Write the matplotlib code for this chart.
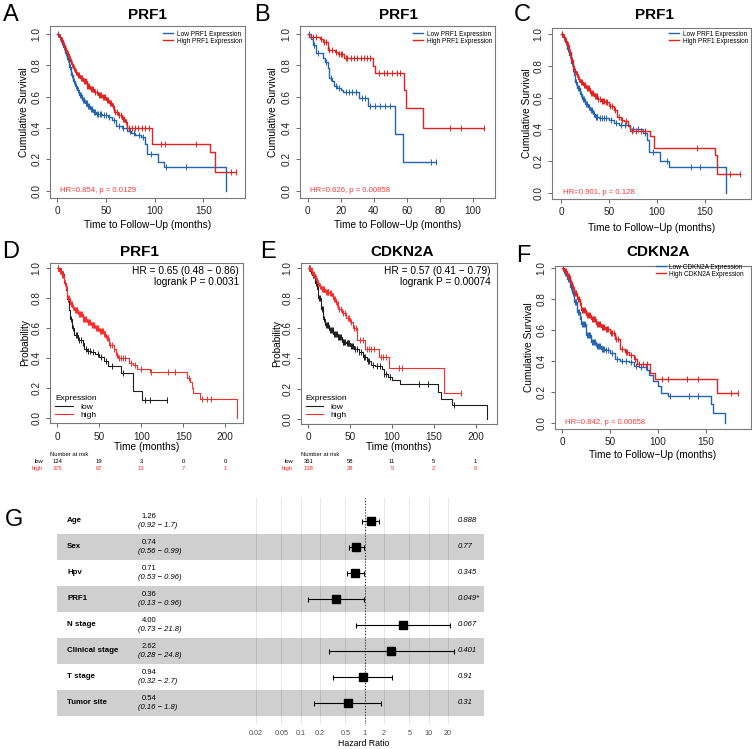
import numpy as np
import matplotlib.pyplot as plt
from matplotlib.transforms import blended_transform_factory as blend

plt.rcParams['font.family'] = ['Liberation Sans', 'DejaVu Sans']

W, H = 752, 749
BLUE = '#2264ae'
RED = '#e3211f'
RED2 = '#ff2a2a'
BLACK = '#1e1e1e'
HRCOL = '#ff3a3a'

# ---------------- KM data ----------------
# panel A (PRF1, low / high)
a_low_t = [2, 4, 6, 8, 10, 12, 14, 16, 18, 20, 22, 25, 28, 31, 34, 37, 40, 46, 52, 56, 60, 66, 72, 76, 80, 86, 90, 92, 103, 110, 173]
a_low_s = [0.98, 0.95, 0.92, 0.88, 0.84, 0.79, 0.74, 0.70, 0.67, 0.64, 0.61, 0.58, 0.56, 0.54, 0.52, 0.50, 0.49, 0.48, 0.47, 0.45, 0.41, 0.40, 0.38, 0.37, 0.355, 0.34, 0.30, 0.235, 0.18, 0.153, 0.0]
a_low_c = [1, 3, 5, 7, 9, 11, 13, 15, 17, 19, 21, 23, 24, 26, 27, 29, 30, 32, 33, 35, 36, 38, 39, 41, 42, 44, 45, 48, 50, 53, 58, 63, 68, 75, 79, 84, 88, 96, 112, 132]
a_high_t = [2, 4, 6, 8, 10, 12, 14, 16, 18, 20, 23, 26, 30, 34, 38, 42, 46, 50, 53, 56, 58, 62, 66, 70, 72, 97, 157, 162]
a_high_s = [0.98, 0.96, 0.93, 0.90, 0.87, 0.84, 0.81, 0.78, 0.76, 0.74, 0.72, 0.70, 0.67, 0.65, 0.63, 0.61, 0.60, 0.58, 0.56, 0.54, 0.50, 0.48, 0.46, 0.44, 0.40, 0.30, 0.25, 0.12]
a_high_c = [3, 5, 7, 9, 11, 13, 15, 17, 19, 21, 22, 24, 25, 27, 28, 29, 31, 32, 33, 35, 36, 37, 39, 41, 43, 44, 45, 47, 48, 49, 51, 52, 54, 55, 57, 59, 61, 63, 65, 67, 69, 71, 74, 77, 80, 83, 87, 90, 94, 107, 111, 142, 178, 184]

# panel B (PRF1)
b_low_t = [2, 3.4, 5, 9, 10.5, 12, 13, 15, 16, 18, 20, 21.6, 31, 36.5, 53, 58]
b_low_s = [0.966, 0.93, 0.88, 0.85, 0.82, 0.78, 0.72, 0.70, 0.67, 0.655, 0.64, 0.63, 0.59, 0.54, 0.36, 0.18]
b_low_c = [1, 4, 6, 11, 14, 17, 19, 23, 25, 27, 29, 33, 35, 38, 41, 44, 47, 50, 75, 78]
b_high_t = [1, 7.5, 9, 12, 16.5, 18.5, 22, 39.4, 40.8, 58.4, 59.4, 70]
b_high_s = [0.983, 0.966, 0.95, 0.898, 0.887, 0.87, 0.845, 0.796, 0.75, 0.64, 0.53, 0.40]
b_high_c = [3, 5, 8, 10, 11, 13, 15, 17, 19, 20, 21, 23, 24, 26, 28, 30, 32, 34, 36, 38, 43, 46, 48, 51, 54, 56, 86, 93, 107]

# panel C (PRF1)
c_low_t = [2, 4, 6, 8, 10, 12, 14, 15, 17, 20, 22, 25, 28, 30, 33, 35, 40, 50, 55, 60, 72, 85, 90, 92, 103, 112, 172]
c_low_s = [0.98, 0.95, 0.91, 0.87, 0.82, 0.78, 0.74, 0.70, 0.66, 0.62, 0.59, 0.56, 0.54, 0.52, 0.50, 0.48, 0.47, 0.46, 0.44, 0.43, 0.40, 0.38, 0.33, 0.255, 0.20, 0.165, 0.0]
c_low_c = [1, 3, 5, 7, 9, 11, 13, 16, 18, 19, 21, 23, 24, 26, 27, 29, 31, 32, 34, 36, 37, 38, 41, 43, 45, 47, 52, 57, 63, 67, 75, 80, 88, 96, 110, 135, 145]
c_high_t = [2, 4, 6, 8, 10, 12, 14, 16, 18, 20, 23, 26, 30, 34, 38, 42, 46, 50, 55, 58, 62, 66, 70, 72, 93, 97, 160, 163]
c_high_s = [0.98, 0.96, 0.93, 0.89, 0.84, 0.80, 0.77, 0.75, 0.72, 0.70, 0.68, 0.66, 0.63, 0.61, 0.59, 0.58, 0.57, 0.545, 0.52, 0.48, 0.46, 0.45, 0.42, 0.39, 0.36, 0.285, 0.24, 0.115]
c_high_c = [1, 3, 5, 7, 9, 11, 13, 15, 17, 19, 21, 22, 24, 25, 27, 28, 29, 31, 32, 33, 35, 36, 37, 39, 41, 43, 44, 45, 47, 48, 51, 53, 56, 60, 64, 68, 74, 78, 83, 88, 142, 176, 186]

# panel D (PRF1, KM plotter)
d_low_t = [3, 5, 8, 10, 12, 14, 15, 17, 18, 20, 25, 30, 32, 35, 40, 45, 50, 55, 60, 76, 90, 100.5]
d_low_s = [0.98, 0.96, 0.90, 0.85, 0.79, 0.72, 0.66, 0.62, 0.60, 0.55, 0.52, 0.50, 0.46, 0.45, 0.44, 0.43, 0.41, 0.38, 0.345, 0.30, 0.18, 0.12]
d_low_c = [1, 4, 6, 7, 9, 11, 13, 16, 19, 22, 23, 26, 28, 31, 34, 37, 39, 43, 48, 52, 58, 65, 78, 104, 110, 131]
d_high_t = [2, 5, 8, 10, 12, 15, 18, 20, 25, 30, 35, 40, 45, 50, 55, 58, 62, 67, 70, 72, 85, 90, 95, 110, 154, 158, 160, 162, 170, 213.5]
d_high_s = [0.98, 0.95, 0.90, 0.86, 0.80, 0.76, 0.74, 0.72, 0.69, 0.66, 0.64, 0.62, 0.60, 0.58, 0.56, 0.53, 0.49, 0.46, 0.42, 0.40, 0.365, 0.355, 0.33, 0.305, 0.27, 0.24, 0.20, 0.17, 0.13, 0.0]
d_high_c = [1, 3, 4, 6, 7, 9, 11, 13, 14, 16, 17, 19, 21, 22, 23, 24, 26, 27, 28, 29, 31, 32, 33, 34, 36, 37, 38, 39, 41, 42, 43, 44, 46, 47, 48, 49, 51, 52, 53, 54, 56, 57, 59, 60, 63, 65, 68, 71, 74, 76, 78, 80, 88, 93, 100, 112, 132, 140, 157, 172, 178, 183]
d_years = [0, 50, 100, 150, 200]
d_risk_low = [124, 19, 3, 0, 0]
d_risk_high = [375, 67, 13, 7, 1]

# panel E (CDKN2A, KM plotter)
e_low_t = [2, 5, 8, 10, 12, 15, 18, 20, 25, 30, 35, 40, 45, 50, 55, 60, 65, 70, 75, 80, 88, 90, 95, 100, 110, 155, 158, 172, 214]
e_low_s = [0.98, 0.95, 0.90, 0.86, 0.80, 0.73, 0.66, 0.62, 0.585, 0.56, 0.54, 0.51, 0.50, 0.48, 0.46, 0.44, 0.41, 0.385, 0.36, 0.35, 0.33, 0.30, 0.28, 0.26, 0.23, 0.18, 0.135, 0.09, 0.0]
e_low_c = [1, 3, 4, 6, 7, 9, 11, 13, 14, 16, 17, 19, 21, 22, 23, 24, 26, 27, 28, 29, 31, 32, 33, 34, 36, 37, 38, 39, 41, 42, 43, 44, 46, 47, 48, 49, 51, 52, 54, 56, 58, 61, 63, 66, 68, 71, 73, 77, 82, 86, 91, 93, 98, 132, 143, 174]
e_high_t = [3, 5, 8, 10, 13, 15, 20, 25, 28, 30, 33, 36, 40, 45, 50, 53, 58, 68, 85, 96, 162]
e_high_s = [0.98, 0.96, 0.93, 0.90, 0.88, 0.86, 0.84, 0.83, 0.81, 0.79, 0.76, 0.73, 0.70, 0.67, 0.64, 0.60, 0.52, 0.46, 0.41, 0.335, 0.17]
e_high_c = [1, 2, 4, 6, 7, 9, 11, 12, 14, 16, 17, 18, 19, 21, 22, 23, 24, 26, 27, 29, 31, 32, 34, 35, 37, 39, 42, 44, 47, 49, 51, 55, 57, 62, 65, 70, 72, 75, 78, 87, 89, 93, 108, 112, 183]
e_years = [0, 50, 100, 150, 200]
e_risk_low = [361, 58, 11, 5, 1]
e_risk_high = [138, 28, 5, 2, 0]

# panel F (CDKN2A)
f_low_t = [2, 5, 8, 10, 12, 15, 18, 20, 25, 30, 35, 40, 45, 50, 55, 60, 70, 75, 80, 88, 90, 95, 100, 103, 110, 155, 157, 170]
f_low_s = [0.97, 0.93, 0.88, 0.84, 0.78, 0.72, 0.67, 0.64, 0.57, 0.52, 0.50, 0.48, 0.47, 0.45, 0.41, 0.40, 0.39, 0.37, 0.36, 0.34, 0.31, 0.27, 0.24, 0.195, 0.175, 0.12, 0.06, 0.0]
f_low_c = [1, 3, 4, 6, 7, 9, 11, 13, 14, 16, 17, 19, 21, 22, 23, 24, 26, 27, 28, 29, 31, 32, 33, 34, 36, 37, 38, 39, 41, 42, 43, 44, 46, 48, 52, 57, 62, 66, 72, 77, 82, 87, 112, 132, 142]
f_high_t = [2, 5, 8, 10, 12, 15, 18, 20, 25, 30, 35, 40, 45, 50, 55, 60, 65, 70, 75, 78, 92, 97, 161]
f_high_s = [0.98, 0.95, 0.91, 0.88, 0.84, 0.80, 0.76, 0.73, 0.70, 0.67, 0.64, 0.62, 0.61, 0.58, 0.54, 0.48, 0.46, 0.44, 0.41, 0.38, 0.32, 0.285, 0.19]
f_high_c = [1, 3, 4, 6, 7, 9, 11, 13, 14, 16, 17, 19, 21, 22, 23, 24, 26, 27, 28, 29, 31, 32, 33, 34, 36, 37, 38, 39, 41, 42, 43, 44, 46, 47, 48, 51, 52, 54, 56, 58, 62, 66, 68, 72, 76, 80, 84, 88, 104, 110, 130, 142, 176, 183]

# forest plot (G)
fp_vars = ['Age', 'Sex', 'Hpv', 'PRF1', 'N stage', 'Clinical stage', 'T stage', 'Tumor site']
fp_hr = [1.26, 0.74, 0.71, 0.36, 4.00, 2.62, 0.94, 0.54]
fp_lo = [0.92, 0.56, 0.53, 0.13, 0.73, 0.28, 0.32, 0.16]
fp_hi = [1.7, 0.99, 0.96, 0.96, 21.8, 24.8, 2.7, 1.8]
fp_p = ['0.888', '0.77', '0.345', '0.049*', '0.067', '0.401', '0.91', '0.31']
fp_ticks = [0.02, 0.05, 0.1, 0.2, 0.5, 1, 2, 5, 10, 20]

fig = plt.figure(figsize=(W / 100, H / 100), dpi=100)


def add_box(l, t, r, b):
    return fig.add_axes([l / W, 1 - b / H, (r - l) / W, (b - t) / H])


def km(ax, times, surv, cens, color, lw=1.0, ms=3.8):
    t = np.r_[0.0, times]
    s = np.r_[1.0, surv]
    end = max(t[-1], max(cens))
    line, = ax.step(np.r_[t, end], np.r_[s, s[-1]], where='post', color=color, lw=lw)
    c = np.asarray(cens, float)
    cy = s[np.searchsorted(t, c, side='right') - 1]
    ax.plot(c, cy, ls='none', marker='|', ms=ms, mew=0.7, color=color)
    return line


def frame(ax, box, x0, x1, xpx, y0px, y1px, xticks, xlab, ylab, xlab_y, ylab_x, title, tx, ty):
    # box: l,t,r,b in px ; x0/x1 tick values at xpx pixels ; y0px -> 0.0, y1px -> 1.0
    l, t, r, b = box
    k = (xpx[1] - xpx[0]) / (x1 - x0)
    ax.set_xlim(x0 - (xpx[0] - l) / k, x1 + (r - xpx[1]) / k)
    ky = (y0px - y1px)
    ax.set_ylim(-(b - y0px) / ky, 1 + (y1px - t) / ky)
    ax.set_xticks(xticks)
    yt = [0, 0.2, 0.4, 0.6, 0.8, 1.0]
    ax.set_yticks(yt)
    ax.set_yticklabels([f'{v:.1f}' for v in yt], rotation=90, va='center')
    for sp in ax.spines.values():
        sp.set_color('#7a7a7a')
        sp.set_linewidth(0.8)
    ax.tick_params(length=3, width=0.7, color='#666666', labelsize=7.2, labelcolor='#222222', pad=3)
    ax.set_xlabel(xlab, fontsize=7.3, va='center')
    ax.xaxis.set_label_coords(0.5, -(xlab_y - b) / (b - t))
    ax.set_ylabel(ylab, fontsize=7.3, va='center')
    ax.yaxis.set_label_coords((ylab_x - l) / (r - l), 0.5)
    fig.text(tx / W, 1 - ty / H, title, fontsize=11, fontweight='bold', ha='center', va='center')


def top_legend(ax, box, handles, labels, right_px, top_px):
    l, t, r, b = box
    ax.legend(handles, labels, loc='upper right',
              bbox_to_anchor=((right_px - l) / (r - l), (b - top_px) / (b - t)),
              frameon=False, fontsize=4.7, handlelength=1.6, handletextpad=0.5,
              labelspacing=0.0, borderpad=0, borderaxespad=0)


def hr_text(ax, box, x_px, txt):
    l, t, r, b = box
    ax.text((x_px - l) / (r - l), 0.0, txt, transform=blend(ax.transAxes, ax.transData),
            fontsize=5.6, color=HRCOL, ha='left', va='center')


def letter(x, y, s):
    fig.text(x / W, 1 - y / H, s, fontsize=17, ha='center', va='center')


# ---------- A ----------
boxA = (50, 26, 245, 198)
axA = add_box(*boxA)
lA1 = km(axA, a_low_t, a_low_s, a_low_c, BLUE)
lA2 = km(axA, a_high_t, a_high_s, a_high_c, RED)
frame(axA, boxA, 0, 150, (57.3, 203.3), 190.7, 34, [0, 50, 100, 150],
      'Time to Follow\u2212Up (months)', 'Cumulative Survival', 225, 24, 'PRF1', 147, 15)
top_legend(axA, boxA, [lA1, lA2], ['Low PRF1 Expression', 'High PRF1 Expression'], 242, 30.5)
hr_text(axA, boxA, 60, 'HR=0.854, p = 0.0129')
letter(11, 15, 'A')

# ---------- B ----------
boxB = (300, 26, 495, 198)
axB = add_box(*boxB)
lB1 = km(axB, b_low_t, b_low_s, b_low_c, BLUE)
lB2 = km(axB, b_high_t, b_high_s, b_high_c, RED)
frame(axB, boxB, 0, 100, (307.7, 472.7), 190.7, 34, [0, 20, 40, 60, 80, 100],
      'Time to Follow\u2212Up (months)', 'Cumulative Survival', 225, 273, 'PRF1', 398, 15)
top_legend(axB, boxB, [lB1, lB2], ['Low PRF1 Expression', 'High PRF1 Expression'], 492, 30.5)
hr_text(axB, boxB, 310, 'HR=0.626, p = 0.00858')
letter(262, 15, 'B')

# ---------- C ----------
boxC = (552, 28, 751, 199)
axC = add_box(*boxC)
lC1 = km(axC, c_low_t, c_low_s, c_low_c, BLUE)
lC2 = km(axC, c_high_t, c_high_s, c_high_c, RED)
frame(axC, boxC, 0, 150, (561, 705), 192.7, 34.3, [0, 50, 100, 150],
      'Time to Follow\u2212Up (months)', 'Cumulative Survival', 228, 527, 'PRF1', 654, 15)
top_legend(axC, boxC, [lC1, lC2], ['Low PRF1 Expression', 'High PRF1 Expression'], 748, 30.5)
hr_text(axC, boxC, 563, 'HR=0.901, p = 0.128')
letter(522, 15, 'C')


# ---------- D / E (KM plotter style) ----------
def kmplot_panel(box, low, high, xpx, ylabx, title, tx, hr1, hr2, hr_right, years, rl, rh, lab_right, nar_left):
    ax = add_box(*box)
    l1 = km(ax, *low, BLACK, lw=0.8)
    l2 = km(ax, *high, RED2, lw=0.8)
    frame(ax, box, 0, 200, xpx, box[3] - 5, box[1] + 5, [0, 50, 100, 150, 200],
          'Time (months)', 'Probability', 447, ylabx, title, tx, 252)
    l, t, r, b = box
    ax.text((hr_right - l) / (r - l), (b - 270.5) / (b - t), hr1, transform=ax.transAxes,
            ha='right', va='center', fontsize=7.3)
    ax.text((hr_right - l) / (r - l), (b - 282) / (b - t), hr2, transform=ax.transAxes,
            ha='right', va='center', fontsize=7.3)
    ax.legend([l1, l2], ['low', 'high'], title='Expression', loc='lower left',
              bbox_to_anchor=(5 / (r - l), (b - 419) / (b - t)),
              frameon=False, fontsize=6, title_fontsize=6, handlelength=2.1,
              handletextpad=0.9, labelspacing=0.05, borderpad=0, borderaxespad=0,
              alignment='left')
    tr = blend(ax.transData, fig.transFigure)
    fig.text(nar_left / W, 1 - 455 / H, 'Number at risk', fontsize=4.2, ha='left', va='center')
    fig.text(lab_right / W, 1 - 462 / H, 'low', fontsize=4.2, ha='right', va='center')
    fig.text(lab_right / W, 1 - 469 / H, 'high', fontsize=4.2, ha='right', va='center', color=RED2)
    for yv, a, bb in zip(years, rl, rh):
        ax.text(yv, 1 - 462 / H, str(a), transform=tr, fontsize=4.2, ha='center', va='center')
        ax.text(yv, 1 - 469 / H, str(bb), transform=tr, fontsize=4.2, ha='center', va='center', color=RED2)
    return ax


boxD = (50, 262.7, 242.7, 423.3)
axD = kmplot_panel(boxD, (d_low_t, d_low_s, d_low_c), (d_high_t, d_high_s, d_high_c),
                   (57.3, 225.3), 25.5, 'PRF1', 139, 'HR = 0.65 (0.48 \u2212 0.86)',
                   'logrank P = 0.0031', 239, d_years, d_risk_low, d_risk_high, 43, 50)
letter(11, 252, 'D')

boxE = (300.7, 262.7, 497.3, 424)
axE = kmplot_panel(boxE, (e_low_t, e_low_s, e_low_c), (e_high_t, e_high_s, e_high_c),
                   (308.3, 475.7), 277, 'CDKN2A', 402, 'HR = 0.57 (0.41 \u2212 0.79)',
                   'logrank P = 0.00074', 491, e_years, e_risk_low, e_risk_high, 293, 301)
letter(268, 252, 'E')

# ---------- F ----------
boxF = (555, 265.7, 751, 429)
axF = add_box(*boxF)
lF1 = km(axF, f_low_t, f_low_s, f_low_c, BLUE)
lF2 = km(axF, f_high_t, f_high_s, f_high_c, RED)
frame(axF, boxF, 0, 150, (562.3, 706), 422.7, 268.3, [0, 50, 100, 150],
      'Time to Follow\u2212Up (months)', 'Cumulative Survival', 455, 529, 'CDKN2A', 658, 252)
top_legend(axF, boxF, [lF1, lF2], ['Low CDKN2A Expression', 'High CDKN2A Expression'], 744, 263.5)
hr_text(axF, boxF, 565, 'HR=0.842, p = 0.00658')
letter(523, 256, 'F')

# ---------- G forest plot ----------
gl, gt, gr, gb = 55, 498, 484, 724
axG = add_box(gl, gt, gr, gb)
c1, ppd = 364.7, 64.0
axG.set_xscale('log')
axG.set_xlim(10 ** ((gl - c1) / ppd), 10 ** ((gr - c1) / ppd))
r0, rh = 521, 26.0
axG.set_ylim((gb - r0) / rh, (gt - r0) / rh)
rows = np.arange(len(fp_vars))
for i in rows:
    if i % 2 == 1:
        axG.axhspan(i - 0.5, i + 0.5, xmin=2 / (gr - gl), xmax=1, color='#cfcfcf', lw=0, zorder=0)
for v in fp_ticks:
    axG.axvline(v, color='k', alpha=0.1, lw=0.7, zorder=1)
axG.axvline(1, color='#333333', lw=0.8, ls=(0, (1, 1.6)), zorder=2)
hr = np.array(fp_hr)
axG.errorbar(hr, rows, xerr=[hr - np.array(fp_lo), np.array(fp_hi) - hr], fmt='s',
             color='k', ms=6, capsize=1.8, elinewidth=0.8, capthick=0.8, zorder=3)
axG.set_xticks(fp_ticks)
axG.set_xticklabels([str(v) for v in fp_ticks])
axG.minorticks_off()
axG.set_yticks([])
axG.tick_params(axis='x', length=0, labelsize=5.2, labelcolor='#4d4d4d', pad=4)
for sp in axG.spines.values():
    sp.set_visible(False)
axG.set_xlabel('Hazard Ratio', fontsize=6.3, va='center')
axG.xaxis.set_label_coords((364 - gl) / (gr - gl), -(744 - gb) / (gb - gt))
trG = blend(fig.transFigure, axG.transData)
for i, name in enumerate(fp_vars):
    axG.text(67 / W, i, name, transform=trG, fontsize=5.7, fontweight='bold', ha='left', va='center')
    axG.text(149 / W, i - 0.16, f'{fp_hr[i]:.2f}', transform=trG, fontsize=5.5, ha='center', va='center')
    axG.text(138 / W, i + 0.16, f'({fp_lo[i]:.2f} \u2212 {fp_hi[i]})', transform=trG, fontsize=5.5,
             style='italic', ha='left', va='center')
    axG.text(458 / W, i, fp_p[i], transform=trG, fontsize=5.5, style='italic', ha='left', va='center')
letter(14, 520, 'G')

fig.savefig('out.png', dpi=100)
